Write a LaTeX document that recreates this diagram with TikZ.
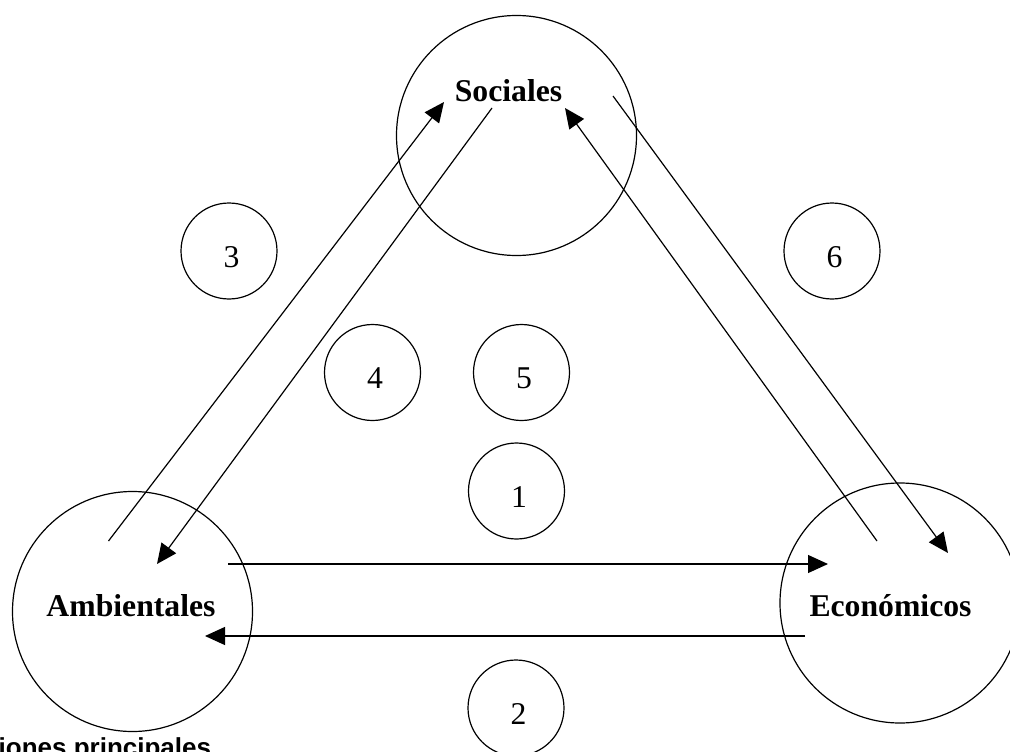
\documentclass[tikz,border=0pt]{standalone}
\usepackage{fontspec}
\setmainfont{Liberation Serif}
\newfontfamily\captionfont{Liberation Sans}
\usetikzlibrary{arrows.meta}
\begin{document}
\begin{tikzpicture}[x=1pt,y=-1pt,
  bigc/.style={circle,draw,line width=1.2pt,minimum size=240pt,inner sep=0pt},
  smallc/.style={circle,draw,line width=1.2pt,minimum size=96pt,inner sep=0pt},
  title/.style={anchor=base,inner sep=0pt,font=\fontsize{31.7}{38}\selectfont\bfseries},
  num/.style={anchor=base,inner sep=0pt,font=\fontsize{31.7}{38}\selectfont},
  link/.style={line width=1.2pt,-{Triangle[length=20pt,width=18pt]}},
]
\useasboundingbox (0,0) rectangle (1010,752);
\clip (0,0) rectangle (1010,752);

% the three main spheres
\node[bigc] (soc) at (516.5,135.5) {};
\node[bigc] (amb) at (132.5,611.5) {};
\node[bigc] (eco) at (900,603) {};
\node[title] (tsoc) at (508.5,102) {Sociales};
\node[title] (tamb) at (131,616) {Ambientales};
\node[title] (teco) at (890.5,616) {Económicos};

% numbered relations
\node[smallc] (c1) at (516.5,491) {};
\node[smallc] (c2) at (516,708) {};
\node[smallc] (c3) at (229,251) {};
\node[smallc] (c4) at (372.5,372.5) {};
\node[smallc] (c5) at (521.5,372.5) {};
\node[smallc] (c6) at (832,251) {};
\node[num] (n1) at (519,507) {1};
\node[num] (n2) at (518.5,724) {2};
\node[num] (n3) at (231.5,267) {3};
\node[num] (n4) at (375,388) {4};
\node[num] (n5) at (524,388) {5};
\node[num] (n6) at (834.5,267) {6};

% arrow end points inside the spheres
\coordinate (a3s) at (108.5,541);
\coordinate (a3e) at (444,102);
\coordinate (a4s) at (492,108);
\coordinate (a4e) at (157,564);
\coordinate (a5s) at (877,541);
\coordinate (a5e) at (565,108);
\coordinate (a6s) at (613,96);
\coordinate (a6e) at (948,553);
\coordinate (h1s) at (228,564);
\coordinate (h1e) at (828,564);
\coordinate (h2s) at (805,636);
\coordinate (h2e) at (205,636);

\draw[link] (a3s) -- (a3e);
\draw[link] (a4s) -- (a4e);
\draw[link] (a5s) -- (a5e);
\draw[link] (a6s) -- (a6e);
\draw[link] (h1s) -- (h1e);
\draw[link] (h2s) -- (h2e);

% caption, cut by the page edge
\node[anchor=base west,inner sep=0pt,font=\captionfont\bfseries\fontsize{26}{30}\selectfont] (cap) at (-1.5,756.5) {iones principales};
\end{tikzpicture}
\end{document}
